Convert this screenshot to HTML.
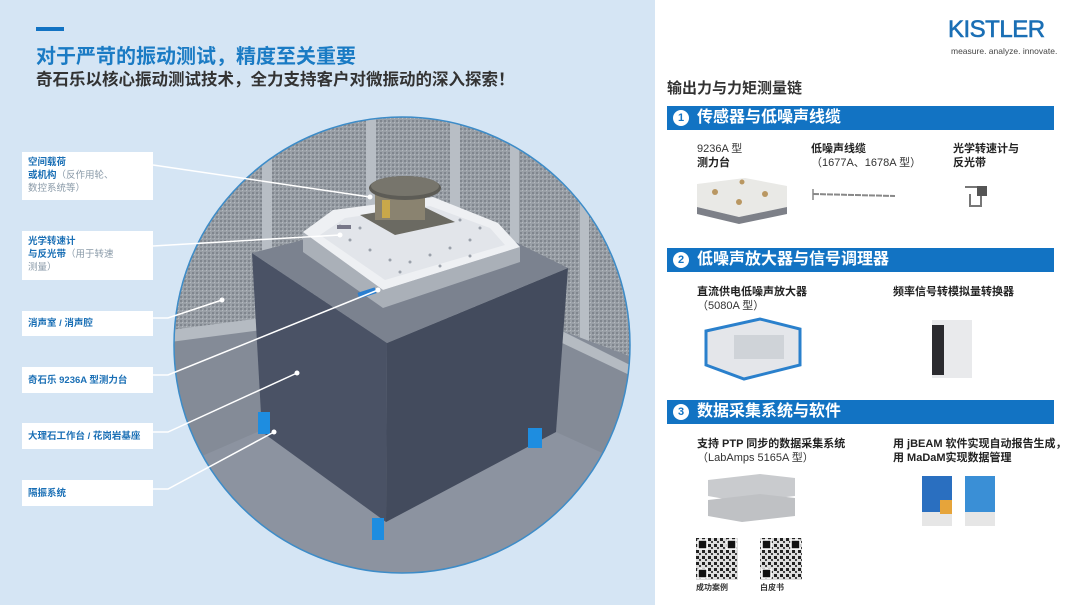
<!DOCTYPE html>
<html><head><meta charset="utf-8"><style>
*{margin:0;padding:0;box-sizing:border-box}
body{width:1080px;height:605px;overflow:hidden;position:relative;font-family:"Liberation Sans","Noto Sans CJK SC",sans-serif;background:#fff}
.left{position:absolute;left:0;top:0;width:655px;height:605px;background:#d5e5f4}
.abs{position:absolute;white-space:nowrap}
.lbl{position:absolute;left:22px;width:131px;background:#fff;padding:4px 6px;font-size:9.5px;line-height:13px;color:#1a6fb5;font-weight:bold}
.lbl span{color:#8a9aa8;font-weight:normal}
.bar{position:absolute;left:667px;width:387px;height:24px;background:#1273c3;color:#fff;font-size:16px;font-weight:bold;line-height:24px;padding-left:30px}
.bar i{position:absolute;left:6px;top:4px;width:16px;height:16px;border-radius:50%;background:#fff;color:#1273c3;font-style:normal;font-size:11px;line-height:16px;text-align:center;font-weight:bold}
.t{position:absolute;font-size:11px;line-height:14px;color:#333;white-space:nowrap}
.t b{color:#222}
</style></head><body>
<div class="left"></div>
<div class="abs" style="left:36px;top:27px;width:28px;height:4px;background:#1273c3"></div>
<div class="abs" style="left:36px;top:40px;font-size:20px;font-weight:bold;color:#1a7bc4">对于严苛的振动测试，精度至关重要</div>
<div class="abs" style="left:36px;top:66px;font-size:16.5px;font-weight:bold;color:#333">奇石乐以核心振动测试技术，全力支持客户对微振动的深入探索！</div>

<svg class="abs" style="left:0;top:0" width="655" height="605" viewBox="0 0 655 605">
<defs>
<clipPath id="c"><circle cx="402" cy="345" r="228"/></clipPath>
<pattern id="p" width="4" height="4" patternUnits="userSpaceOnUse"><rect width="4" height="4" fill="#9aa0a7"/><rect width="2" height="2" fill="#80868e"/><rect x="2" y="2" width="1" height="1" fill="#b5bac0"/></pattern>
</defs>
<g clip-path="url(#c)">
<rect x="170" y="110" width="470" height="470" fill="url(#p)"/>
<rect x="262" y="120" width="10" height="260" fill="#b8bec5"/>
<rect x="366" y="115" width="10" height="190" fill="#b8bec5"/>
<rect x="450" y="115" width="10" height="200" fill="#b8bec5"/>
<rect x="510" y="120" width="9" height="230" fill="#b8bec5"/>
<rect x="580" y="130" width="9" height="280" fill="#b8bec5"/>
<polygon points="170,330 262,320 560,330 640,360 640,580 170,580" fill="#848b97"/>
<polygon points="170,330 262,318 262,330 170,342" fill="#b5bbc2"/>
<polygon points="560,330 640,370 640,380 560,342" fill="#b5bbc2"/>
<polygon points="262,430 386,520 556,432 640,470 640,580 170,580 170,470" fill="#8c93a0"/>
<!-- cube -->
<polygon points="252,253 387,343 386,522 262,432" fill="#4a5265"/>
<polygon points="387,343 568,268 556,432 386,522" fill="#434b5d"/>
<polygon points="252,253 440,205 568,268 387,343" fill="#7b828f"/>
<!-- platform -->
<polygon points="303,232 303,252 383,308 520,262 520,247 383,290" fill="#aab0b8"/>
<polygon points="303,232 333,210 433,197 498,223 520,247 383,290" fill="#eef0f3"/>
<polygon points="320,235 345,218 430,206 490,228 505,245 385,280" fill="#e2e5ea"/>
<g fill="#9aa0aa">
<circle cx="350" cy="240" r="1.5"/><circle cx="370" cy="250" r="1.5"/><circle cx="390" cy="260" r="1.5"/><circle cx="410" cy="262" r="1.5"/><circle cx="430" cy="255" r="1.5"/><circle cx="450" cy="248" r="1.5"/><circle cx="470" cy="240" r="1.5"/><circle cx="480" cy="228" r="1.5"/><circle cx="460" cy="220" r="1.5"/><circle cx="360" cy="228" r="1.5"/><circle cx="400" cy="272" r="1.5"/><circle cx="440" cy="266" r="1.5"/><circle cx="470" cy="256" r="1.5"/><circle cx="340" cy="226" r="1.5"/>
</g>
<rect x="358" y="290" width="18" height="6" fill="#2a7fd0" transform="rotate(-18 367 293)"/>
<!-- payload -->
<polygon points="360,215 420,205 455,222 395,235" fill="#6b6a62"/>
<rect x="375" y="185" width="50" height="35" fill="#8a8370"/>
<rect x="382" y="200" width="8" height="18" fill="#c9a84a"/>
<ellipse cx="405" cy="188" rx="36" ry="12" fill="#5d5c56"/>
<ellipse cx="405" cy="186" rx="34" ry="10" fill="#77756c"/>
<rect x="337" y="225" width="14" height="4" fill="#778"/>
<!-- feet -->
<rect x="258" y="412" width="12" height="22" fill="#1e8de0"/>
<rect x="372" y="518" width="12" height="22" fill="#1e8de0"/>
<rect x="528" y="428" width="14" height="20" fill="#1e8de0"/>
</g>
<circle cx="402" cy="345" r="228" fill="none" stroke="#3d8cc8" stroke-width="1.5"/>
<g stroke="#fff" stroke-width="1.5" fill="none">
<polyline points="153,165 370,197"/>
<polyline points="153,246 340,235"/>
<polyline points="153,318 168,318 222,300"/>
<polyline points="153,375 168,375 378,290"/>
<polyline points="153,432 168,432 297,373"/>
<polyline points="153,489 168,489 274,432"/>
</g>
<g fill="#fff"><circle cx="370" cy="197" r="2.5"/><circle cx="340" cy="235" r="2.5"/><circle cx="222" cy="300" r="2.5"/><circle cx="378" cy="290" r="2.5"/><circle cx="297" cy="373" r="2.5"/><circle cx="274" cy="432" r="2.5"/></g>
</svg>

<div class="lbl" style="top:152px;height:48px">空间载荷<br>或机构<span>（反作用轮、<br>数控系统等）</span></div>
<div class="lbl" style="top:231px;height:49px">光学转速计<br>与反光带<span>（用于转速<br>测量）</span></div>
<div class="lbl" style="top:311px;height:25px;padding-top:6px">消声室 / 消声腔</div>
<div class="lbl" style="top:367px;height:26px;padding-top:7px">奇石乐 9236A 型测力台</div>
<div class="lbl" style="top:423px;height:26px;padding-top:7px">大理石工作台 / 花岗岩基座</div>
<div class="lbl" style="top:480px;height:26px;padding-top:7px">隔振系统</div>

<!-- right -->
<div class="abs" style="left:948px;top:16px;font-size:24px;color:#1a6fb5;letter-spacing:-0.5px;-webkit-text-stroke:0.6px #1a6fb5">KISTLER</div>
<div class="abs" style="left:951px;top:46px;font-size:8.5px;color:#444">measure. analyze. innovate.</div>
<div class="abs" style="left:667px;top:77px;font-size:15px;font-weight:bold;color:#333">输出力与力矩测量链</div>

<div class="bar" style="top:106px"><i>1</i>传感器与低噪声线缆</div>
<div class="t" style="left:697px;top:142px">9236A 型<br><b>测力台</b></div>
<div class="t" style="left:811px;top:142px"><b>低噪声线缆</b><br>（1677A、1678A 型）</div>
<div class="t" style="left:953px;top:142px"><b>光学转速计与<br>反光带</b></div>
<svg class="abs" style="left:695px;top:172px" width="360" height="55">
<polygon points="2,12 50,6 92,14 92,35 44,45 2,35" fill="#e9e9e6"/>
<polygon points="2,35 44,45 92,35 92,42 44,52 2,42" fill="#7d8088"/>
<circle cx="20" cy="20" r="3" fill="#b99762"/><circle cx="44" cy="30" r="3" fill="#b99762"/><circle cx="70" cy="22" r="3" fill="#b99762"/><circle cx="47" cy="10" r="2.5" fill="#b99762"/>
<line x1="118" y1="22" x2="200" y2="24" stroke="#888" stroke-width="2" stroke-dasharray="6 1"/>
<line x1="118" y1="17" x2="118" y2="28" stroke="#888" stroke-width="1.5"/>
<path d="M270 15 h16 v20 M275 22 v12 h10" stroke="#777" stroke-width="2" fill="none"/>
<rect x="282" y="14" width="10" height="10" fill="#555"/>
</svg>

<div class="bar" style="top:248px"><i>2</i>低噪声放大器与信号调理器</div>
<div class="t" style="left:697px;top:285px"><b>直流供电低噪声放大器</b><br>（5080A 型）</div>
<div class="t" style="left:893px;top:285px"><b>频率信号转模拟量转换器</b></div>
<svg class="abs" style="left:700px;top:315px" width="280" height="70">
<polygon points="6,16 60,4 100,14 100,50 44,64 6,50" fill="#e4e6ea" stroke="#2a80cc" stroke-width="3"/>
<rect x="34" y="20" width="50" height="24" fill="#cfd3d8"/>
<rect x="232" y="5" width="40" height="58" fill="#e9eaec"/>
<rect x="232" y="10" width="12" height="50" fill="#2b2b2f"/>
</svg>

<div class="bar" style="top:400px"><i>3</i>数据采集系统与软件</div>
<div class="t" style="left:697px;top:437px"><b>支持 PTP 同步的数据采集系统</b><br>（LabAmps 5165A 型）</div>
<div class="t" style="left:893px;top:437px"><b>用 jBEAM 软件实现自动报告生成，<br>用 MaDaM实现数据管理</b></div>
<svg class="abs" style="left:700px;top:470px" width="320" height="62">
<polygon points="8,10 60,4 95,8 95,26 42,32 8,26" fill="#c9cbce"/>
<polygon points="8,30 60,24 95,28 95,46 42,52 8,46" fill="#bfc1c4"/>
<rect x="222" y="6" width="30" height="50" fill="#2a6fc0"/><rect x="222" y="42" width="30" height="14" fill="#e6e6e6"/><rect x="240" y="30" width="12" height="14" fill="#e6a43a"/>
<rect x="265" y="6" width="30" height="50" fill="#3a8fd6"/><rect x="265" y="42" width="30" height="14" fill="#e6e6e6"/>
</svg>
<svg class="abs" style="left:696px;top:538px" width="110" height="44">
<defs><pattern id="q" width="6" height="6" patternUnits="userSpaceOnUse"><rect width="6" height="6" fill="#ddd"/><rect width="3" height="3" fill="#222"/><rect x="3" y="3" width="2" height="2" fill="#444"/></pattern></defs>
<rect x="0" y="0" width="42" height="42" fill="url(#q)"/><rect x="64" y="0" width="42" height="42" fill="url(#q)"/>
<g fill="#111" stroke="#fff" stroke-width="1.5">
<rect x="2" y="2" width="9" height="9"/><rect x="31" y="2" width="9" height="9"/><rect x="2" y="31" width="9" height="9"/>
<rect x="66" y="2" width="9" height="9"/><rect x="95" y="2" width="9" height="9"/><rect x="66" y="31" width="9" height="9"/>
</g>
</svg>
<div class="abs" style="left:696px;top:582px;font-size:8px;font-weight:bold;color:#333">成功案例</div>
<div class="abs" style="left:760px;top:582px;font-size:8px;font-weight:bold;color:#333">白皮书</div>
</body></html>
